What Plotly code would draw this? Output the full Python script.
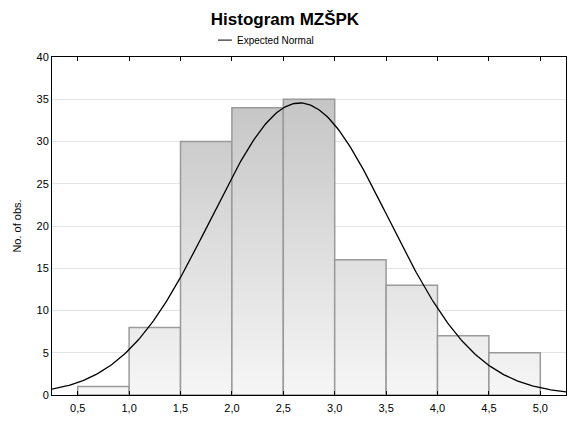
import numpy as np
import plotly.graph_objects as go

# Data
bin_left = [0.5, 1.0, 1.5, 2.0, 2.5, 3.0, 3.5, 4.0, 4.5]
bin_width = 0.5
counts = [1, 8, 30, 34, 35, 16, 13, 7, 5]
x_ticks = [0.5, 1.0, 1.5, 2.0, 2.5, 3.0, 3.5, 4.0, 4.5, 5.0]
normal_mean = 2.66
normal_sd = 0.86

fig = go.Figure()

for l, c in zip(bin_left, counts):
    r = l + bin_width
    fig.add_trace(go.Scatter(
        x=[l, l, r, r, l], y=[0, c, c, 0, 0],
        mode="lines", fill="toself",
        fillgradient=dict(type="vertical", start=0, stop=36,
                          colorscale=[[0, "#f6f6f6"], [1, "#c4c4c4"]]),
        line=dict(color="#9a9a9a", width=1.5),
        hoverinfo="skip", showlegend=False))

n_total = sum(counts)
xs = np.linspace(0.25, 5.25, 300)
ys = n_total * bin_width / (normal_sd * np.sqrt(2 * np.pi)) * np.exp(-0.5 * ((xs - normal_mean) / normal_sd) ** 2)
fig.add_trace(go.Scatter(x=xs, y=ys, mode="lines", line=dict(color="black", width=1.3),
                         name="Expected Normal", showlegend=False))

fig.update_layout(
    width=570, height=422,
    margin=dict(l=52, r=4, t=57, b=27),
    paper_bgcolor="white", plot_bgcolor="white",
    font=dict(family="Liberation Sans, Arial", color="black", size=11),
    separators=", ",
    title=dict(text="<b>Histogram MZŠPK</b>", x=0.5, xanchor="center", y=0.955, yanchor="middle",
               font=dict(size=17, family="Liberation Sans, Arial")),
    xaxis=dict(range=[0.25, 5.25], tickvals=x_ticks, tickformat=".1f", showgrid=False,
               showline=True, linecolor="black", linewidth=1, mirror="ticks",
               ticks="inside", ticklen=4, tickcolor="black", zeroline=False,
               tickfont=dict(size=11), automargin=False, ticklabelstandoff=3),
    yaxis=dict(range=[0, 40], dtick=5, showgrid=True, gridcolor="#e4e4e4", gridwidth=1,
               showline=True, linecolor="black", linewidth=1, mirror=True,
               ticks="", zeroline=False, tickfont=dict(size=11), automargin=False,
               title=dict(text="No. of obs.", font=dict(size=11), standoff=12)),
    shapes=[dict(type="line", xref="paper", yref="paper",
                 x0=0.323, x1=0.350, y0=1.050, y1=1.050,
                 line=dict(color="black", width=1))],
    annotations=[dict(text="Expected Normal", xref="paper", yref="paper",
                      x=0.357, y=1.050, xanchor="left", yanchor="middle",
                      showarrow=False, font=dict(size=10))],
)

fig.write_html("out.html", config={"displayModeBar": False},
               post_script="document.body.style.margin='0';")
